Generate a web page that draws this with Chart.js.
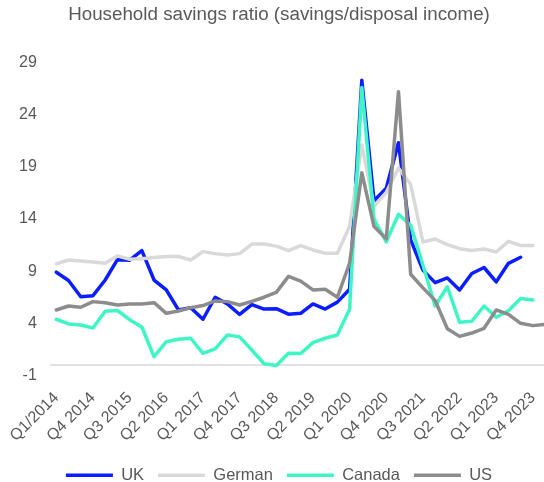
<!DOCTYPE html>
<html>
<head>
<meta charset="utf-8">
<script src="https://cdn.jsdelivr.net/npm/chart.js@4.4.1/dist/chart.umd.min.js"></script>
<style>
  html, body { margin: 0; padding: 0; background: #fff; }
  #wrap { width: 544px; height: 482px; }
</style>
</head>
<body>
<div id="wrap"><canvas id="savings"></canvas></div>
<script>
// quarterly savings ratio, Q1 2014 onwards
const ukSavings = [8.9, 8.1, 6.55, 6.65, 8.15, 10.1, 10.05, 10.97, 8.15, 7.2,
  5.28, 5.5, 4.39, 6.5, 5.86, 4.85, 5.8, 5.37, 5.4, 4.88,
  4.96, 5.86, 5.37, 6.03, 7.26, 27.3, 15.75, 16.95, 21.3, 12.0,
  9.1, 7.9, 8.35, 7.2, 8.77, 9.35, 7.97, 9.75, 10.33];
const germanSavings = [9.7, 10.07, 9.98, 9.88, 9.76, 10.46, 10.14, 10.2, 10.3, 10.4,
  10.4, 10.07, 10.87, 10.68, 10.55, 10.68, 11.6, 11.6, 11.4, 10.97,
  11.45, 11.03, 10.71, 10.71, 13.3, 21.1, 15.2, 16.55, 18.87, 17.3,
  11.8, 12.08, 11.55, 11.15, 10.97, 11.13, 10.84, 11.86, 11.46, 11.46];
const canadaSavings = [4.39, 3.94, 3.84, 3.55, 5.15, 5.23, 4.35, 3.65, 0.8, 2.24,
  2.47, 2.57, 1.13, 1.55, 2.88, 2.7, 1.44, 0.13, -0.05, 1.13,
  1.1, 2.15, 2.57, 2.88, 5.35, 26.6, 14.0, 11.8, 14.45, 13.4,
  9.6, 5.66, 7.5, 4.1, 4.2, 5.66, 4.58, 5.2, 6.37, 6.24];
const usSavings = [5.28, 5.66, 5.54, 6.08, 5.98, 5.76, 5.86, 5.86, 5.98, 4.96,
  5.18, 5.5, 5.7, 6.15, 6.08, 5.76, 6.1, 6.5, 6.97, 8.5,
  8.05, 7.2, 7.26, 6.5, 9.76, 18.44, 13.27, 12.1, 26.2, 8.7,
  7.4, 6.2, 3.48, 2.75, 3.07, 3.52, 5.28, 4.85, 4.0, 3.78, 3.9];

// axis labels, one every third quarter
const tickLabels = ['Q1/2014', 'Q4 2014', 'Q3 2015', 'Q2 2016', 'Q1 2017', 'Q4 2017', 'Q3 2018',
  'Q2 2019', 'Q1 2020', 'Q4 2020', 'Q3 2021', 'Q2 2022', 'Q1 2023', 'Q4 2023'];
const yTicks = [-1, 4, 9, 14, 19, 24, 29];

const textColor = '#595959';
const fontFamily = 'Arial, "Liberation Sans", sans-serif';

const toPoints = arr => arr.map((y, x) => ({ x, y }));

// light line along the zero value
const zeroLine = {
  id: 'zeroLine',
  beforeDatasetsDraw(chart) {
    const { ctx, chartArea, scales } = chart;
    const y = scales.y.getPixelForValue(0);
    ctx.save();
    ctx.strokeStyle = '#d9d9d9';
    ctx.lineWidth = 1.5;
    ctx.beginPath();
    ctx.moveTo(chartArea.left, y);
    ctx.lineTo(chart.width, y);
    ctx.stroke();
    ctx.restore();
  }
};

const lineStyle = {
  borderWidth: 3.5,
  pointRadius: 0,
  tension: 0,
  borderCapStyle: 'round',
  borderJoinStyle: 'round',
  fill: false
};

new Chart(document.getElementById('savings'), {
  type: 'line',
  data: {
    datasets: [
      { label: 'UK', data: toPoints(ukSavings), borderColor: '#0a1eff', backgroundColor: '#0a1eff', order: 4, ...lineStyle },
      { label: 'German', data: toPoints(germanSavings), borderColor: '#d9d9d9', backgroundColor: '#d9d9d9', order: 3, ...lineStyle },
      { label: 'Canada', data: toPoints(canadaSavings), borderColor: '#3ff5c6', backgroundColor: '#3ff5c6', order: 2, ...lineStyle },
      { label: 'US', data: toPoints(usSavings), borderColor: '#8c8c8c', backgroundColor: '#8c8c8c', order: 1, clip: false, ...lineStyle }
    ]
  },
  options: {
    responsive: true,
    maintainAspectRatio: false,
    animation: false,
    layout: { padding: { left: 14, right: 0, top: 0, bottom: 0 } },
    scales: {
      x: {
        type: 'linear',
        min: -0.5,
        max: 39.5,
        afterBuildTicks: axis => { axis.ticks = tickLabels.map((_, k) => ({ value: k * 3 })); },
        afterFit: axis => {
          axis.height = 77.5;
          axis.paddingLeft = 0;
          axis.paddingRight = 5;
        },
        grid: { display: false, drawTicks: false },
        border: { display: false },
        ticks: {
          autoSkip: false,
          minRotation: 45,
          maxRotation: 45,
          padding: 13,
          color: textColor,
          font: { family: fontFamily, size: 16 },
          callback: value => tickLabels[value / 3]
        }
      },
      y: {
        min: -1,
        max: 29,
        afterBuildTicks: axis => { axis.ticks = yTicks.map(v => ({ value: v })); },
        afterFit: axis => { axis.width = 36.2; },
        grid: { display: false, drawTicks: false },
        border: { display: false },
        ticks: {
          padding: 13.4,
          color: textColor,
          font: { family: fontFamily, size: 16 }
        }
      }
    },
    plugins: {
      title: {
        display: true,
        text: 'Household savings ratio (savings/disposal income)',
        color: textColor,
        font: { family: fontFamily, size: 18.8, weight: 'normal' },
        padding: { top: 4, bottom: 35.9 }
      },
      legend: {
        position: 'bottom',
        maxHeight: 29,
        labels: {
          boxWidth: 47,
          boxHeight: 3.5,
          padding: 14,
          color: textColor,
          font: { family: fontFamily, size: 16.5 },
          sort: (a, b) => a.datasetIndex - b.datasetIndex,
          // plain filled swatches, no outline
          generateLabels: chart => Chart.defaults.plugins.legend.labels.generateLabels(chart)
            .map(item => ({ ...item, lineWidth: 0 }))
        }
      },
      tooltip: { enabled: false }
    }
  },
  plugins: [zeroLine]
});
</script>
</body>
</html>
